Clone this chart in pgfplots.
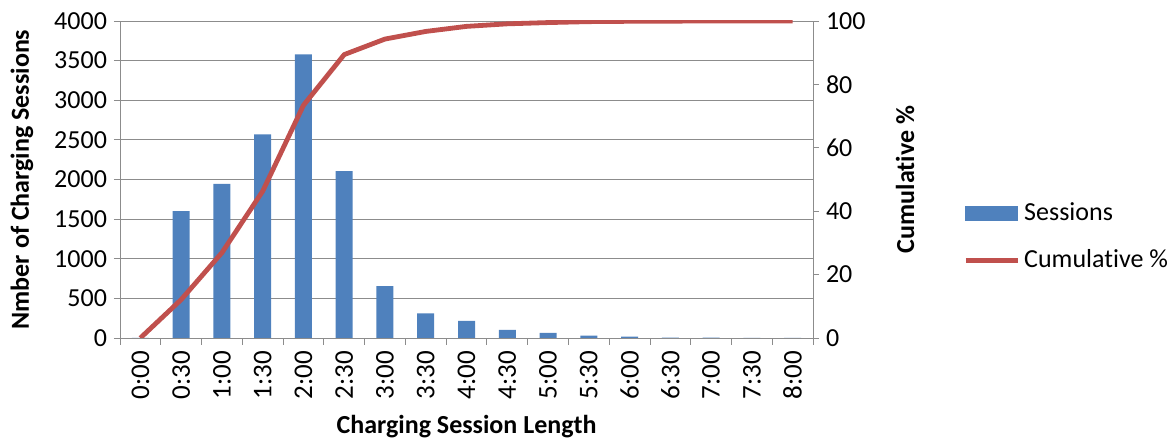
\documentclass[border=0pt]{standalone}
\usepackage{fontspec}
\setmainfont{Carlito}[Ligatures=NoCommon]
\usepackage{pgfplots}
\pgfplotsset{compat=1.18}
\definecolor{barblue}{HTML}{4F81BD}
\definecolor{linered}{HTML}{C0504D}
\definecolor{gridgray}{HTML}{8C8C8C}
\begin{document}
\begin{tikzpicture}
\useasboundingbox (0,0) rectangle (587pt,221pt);
\begin{axis}[
  at={(60pt,52pt)}, anchor=south west,
  scale only axis, width=346.5pt, height=158.5pt,
  xmin=-0.5, xmax=16.5, ymin=0, ymax=4000,
  ybar, bar width=8.5pt,
  xtick={0,...,16},
  xticklabels={0:00,0:30,1:00,1:30,2:00,2:30,3:00,3:30,4:00,4:30,5:00,5:30,6:00,6:30,7:00,7:30,8:00},
  major x tick style={draw=none},
  minor xtick={-0.5,0.5,...,16.5},
  minor x tick style={draw=gridgray, thin},
  minor tick length=3.5pt,
  major tick length=3pt,
  tick align=outside,
  xtick pos=bottom, ytick pos=left,
  ytick={0,500,...,4000},
  y tick style={draw=gridgray, thin},
  ymajorgrids, grid style={gridgray, thin},
  axis line style={gridgray, thin},
  /pgf/number format/assume math mode=true,
  /pgf/number format/1000 sep={},
  scaled y ticks=false,
  yticklabel style={font=\fontsize{13}{15}\selectfont},
  xticklabel style={rotate=90, anchor=east, font=\fontsize{13.5}{15}\selectfont},
  xlabel={Charging Session Length},
  every axis x label/.style={at={(axis description cs:0.5,-0.281)}, anchor=center, font=\bfseries\fontsize{13}{15}\selectfont},
  ylabel={Nmber of Charging Sessions},
  every axis y label/.style={at={(axis description cs:-0.1414,0.5)}, rotate=90, anchor=center, font=\bfseries\fontsize{13}{15}\selectfont},
]
\addplot[fill=barblue, draw=none] coordinates {
(0,0) (1,1600) (2,1946) (3,2570) (4,3580) (5,2105) (6,655) (7,310) (8,215)
(9,101) (10,63) (11,30) (12,16) (13,6) (14,4) (15,2) (16,1)};
\end{axis}
\begin{axis}[
  at={(60pt,52pt)}, anchor=south west,
  scale only axis, width=346.5pt, height=158.5pt,
  xmin=-0.5, xmax=16.5, ymin=0, ymax=100,
  axis x line=none, axis y line*=right,
  ytick={0,20,...,100},
  major tick length=3pt, tick align=outside,
  y tick style={draw=gridgray, thin},
  axis line style={gridgray, thin},
  /pgf/number format/assume math mode=true,
  yticklabel style={font=\fontsize{13}{15}\selectfont},
  ylabel={Cumulative \%},
  every axis y label/.style={at={(axis description cs:1.1328,0.5)}, rotate=90, anchor=center, font=\bfseries\fontsize{13}{15}\selectfont},
  legend style={at={(axis description cs:1.2165,0.44)}, anchor=north west, draw=none, inner sep=0pt, font=\fontsize{13}{15}\selectfont, row sep=9pt},
  legend cell align=left,
]
\addlegendimage{legend image code/.code={\fill[barblue] (0pt,-3.5pt) rectangle (26pt,3.5pt);}}
\addlegendentry{Sessions}
\addplot[linered, line width=2.4pt, line join=round,
  legend image code/.code={\draw[linered, line width=2.4pt] (0pt,0pt) -- (26pt,0pt);}] coordinates {
(0,0) (1,12.1) (2,26.9) (3,46.3) (4,73.4) (5,89.4) (6,94.3) (7,96.7) (8,98.3)
(9,99.1) (10,99.5) (11,99.8) (12,99.9) (13,99.95) (14,100) (15,100) (16,100)};
\addlegendentry{Cumulative \%}
\end{axis}
\end{tikzpicture}
\end{document}
